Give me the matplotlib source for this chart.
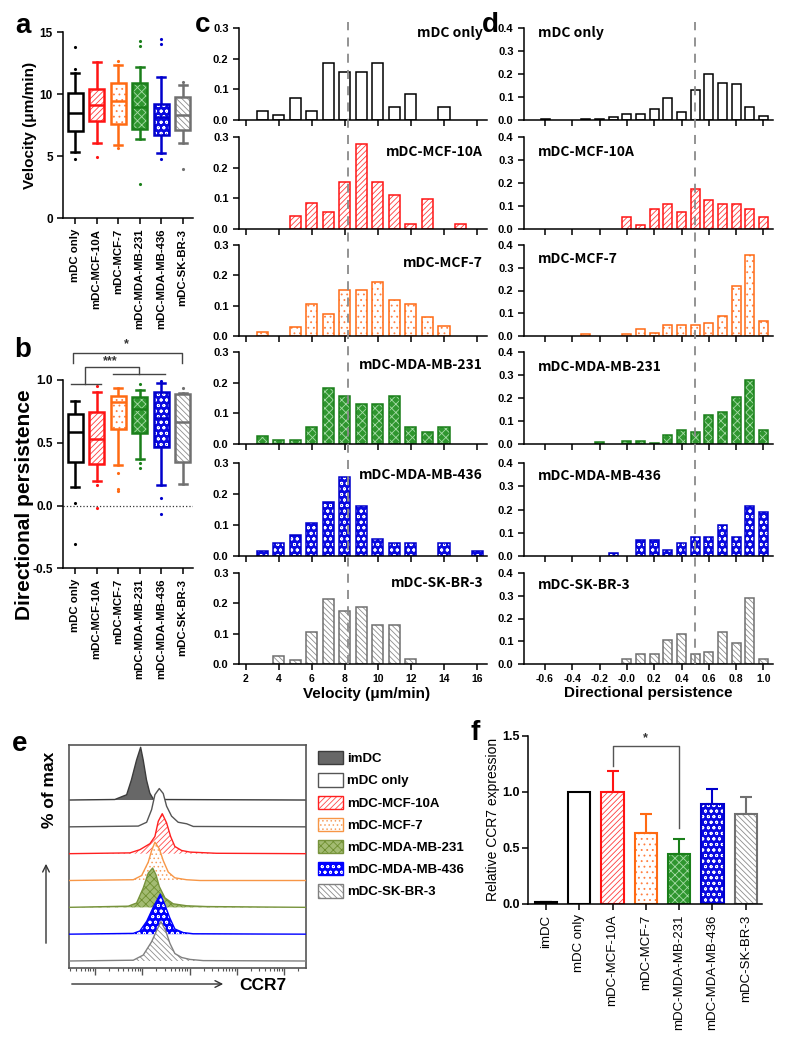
import numpy as np
import matplotlib
matplotlib.use("Agg")
import matplotlib.pyplot as plt
from matplotlib.patches import Patch
from matplotlib.legend_handler import HandlerTuple
from matplotlib.ticker import LogLocator, NullFormatter

plt.rcParams["font.family"] = ["Liberation Sans", "DejaVu Sans"]
plt.rcParams["font.weight"] = "bold"
plt.rcParams["hatch.linewidth"] = 0.6
plt.rcParams["axes.linewidth"] = 1.1
plt.rcParams["xtick.major.width"] = 1.1
plt.rcParams["ytick.major.width"] = 1.1

# ---------------- data ----------------
groups = ["mDC only", "mDC-MCF-10A", "mDC-MCF-7", "mDC-MDA-MB-231", "mDC-MDA-MB-436", "mDC-SK-BR-3"]

# panel a: velocity box plots (um/min)
vel_whislo = [5.38, 6.10, 5.89, 6.37, 5.24, 6.05]
vel_q1 = [7.04, 7.85, 7.61, 7.18, 6.72, 7.12]
vel_med = [8.52, 9.11, 9.44, 8.95, 8.15, 8.33]
vel_q3 = [10.08, 10.40, 10.94, 10.94, 9.25, 9.76]
vel_whishi = [11.75, 12.60, 12.37, 12.18, 11.42, 10.78]
vel_fliers = [[13.84, 12.04, 4.81], [4.92], [12.69, 5.70], [14.30, 13.90, 2.77], [14.46, 14.06, 4.76], [11.02, 3.95]]

# panel b: directional persistence box plots
per_whislo = [0.151, 0.194, 0.326, 0.374, 0.164, 0.170]
per_q1 = [0.350, 0.332, 0.613, 0.576, 0.470, 0.350]
per_med = [0.589, 0.530, 0.828, 0.767, 0.700, 0.668]
per_q3 = [0.727, 0.743, 0.873, 0.862, 0.907, 0.886]
per_whishi = [0.830, 0.902, 0.934, 0.920, 0.973, 0.900]
per_fliers = [[0.024, -0.308], [0.952, 0.167, -0.019], [0.257, 0.133, 0.114],
              [0.966, 0.342, 0.297], [0.990, 0.058, -0.069], [0.940]]

# panel c: velocity histograms (relative frequency)
vel_bins = [3, 4, 5, 6, 7, 8, 9, 10, 11, 12, 13, 14, 15, 16]
vel_mdc = [0.028, 0.015, 0.071, 0.028, 0.187, 0.157, 0.157, 0.187, 0.043, 0.086, 0, 0.043, 0, 0]
vel_mcf10a = [0, 0, 0.041, 0.084, 0.055, 0.152, 0.276, 0.152, 0.111, 0.017, 0.098, 0, 0.017, 0]
vel_mcf7 = [0.013, 0, 0.030, 0.104, 0.074, 0.151, 0.151, 0.179, 0.120, 0.104, 0.061, 0.032, 0, 0]
vel_mb231 = [0.027, 0.013, 0.013, 0.054, 0.183, 0.157, 0.130, 0.130, 0.157, 0.054, 0.040, 0.054, 0, 0]
vel_mb436 = [0.015, 0.042, 0.067, 0.107, 0.175, 0.254, 0.161, 0.054, 0.042, 0.042, 0, 0.042, 0, 0.015]
vel_skbr3 = [0, 0.025, 0.012, 0.105, 0.215, 0.175, 0.188, 0.130, 0.130, 0.015, 0, 0, 0, 0]
vel_mean_line = 8.2

# panel d: directional persistence histograms
per_bins = [-0.6, -0.5, -0.4, -0.3, -0.2, -0.1, 0.0, 0.1, 0.2, 0.3, 0.4, 0.5, 0.6, 0.7, 0.8, 0.9, 1.0]
per_mdc = [0.005, 0, 0, 0.004, 0.004, 0.012, 0.026, 0.026, 0.048, 0.095, 0.034, 0.132, 0.198, 0.160, 0.155, 0.056, 0.019]
per_mcf10a = [0, 0, 0, 0, 0, 0, 0.053, 0.017, 0.089, 0.110, 0.072, 0.176, 0.126, 0.110, 0.110, 0.089, 0.053]
per_mcf7 = [0, 0, 0, 0.007, 0, 0, 0.007, 0.032, 0.013, 0.047, 0.047, 0.047, 0.057, 0.090, 0.218, 0.355, 0.064]
per_mb231 = [0, 0, 0, 0, 0.010, 0, 0.012, 0.012, 0.006, 0.039, 0.061, 0.052, 0.125, 0.138, 0.204, 0.277, 0.060]
per_mb436 = [0, 0, 0, 0, 0, 0.013, 0, 0.068, 0.068, 0.027, 0.056, 0.083, 0.083, 0.135, 0.083, 0.213, 0.190]
per_skbr3 = [0, 0, 0, 0, 0, 0, 0.022, 0.044, 0.044, 0.105, 0.130, 0.044, 0.054, 0.140, 0.091, 0.290, 0.022]
per_mean_line = 0.5

# panel e: CCR7 flow histograms (log10 CCR7, % of max)
e_labels = ["imDC", "mDC only", "mDC-MCF-10A", "mDC-MCF-7", "mDC-MDA-MB-231", "mDC-MDA-MB-436", "mDC-SK-BR-3"]
imdc_x = [1.42, 1.67, 1.77, 1.88, 1.966, 2.02, 2.09, 2.16, 2.24]
imdc_y = [1, 10, 38, 76, 100, 76, 38, 13, 1]
mdc_x = [1.916, 2.093, 2.198, 2.268, 2.36, 2.444, 2.515, 2.62, 2.76, 2.94, 3.08]
mdc_y = [2, 12, 45, 84, 100, 87, 54, 28, 12, 8, 1]
mcf10a_x = [1.74, 1.95, 2.163, 2.268, 2.339, 2.423, 2.515, 2.60, 2.69, 2.833, 3.01, 3.57]
mcf10a_y = [2, 10, 25, 43, 81, 100, 77, 43, 18, 8, 4, 1]
mcf7_x = [1.81, 1.987, 2.127, 2.198, 2.268, 2.36, 2.444, 2.55, 2.69, 2.94, 3.22]
mcf7_y = [2, 13, 48, 78, 100, 83, 52, 22, 7, 2, 0]
mb231_x = [1.705, 1.88, 2.02, 2.127, 2.22, 2.29, 2.36, 2.48, 2.655, 2.94, 3.36]
mb231_y = [3, 11, 49, 87, 100, 83, 53, 24, 9, 4, 2]
mb436_x = [1.81, 1.95, 2.093, 2.24, 2.381, 2.48, 2.585, 2.69, 2.867, 3.08]
mb436_y = [2, 8, 32, 69, 100, 73, 40, 13, 4, 1]
skbr3_x = [1.81, 2.02, 2.198, 2.31, 2.395, 2.49, 2.585, 2.69, 2.833, 3.01, 3.29]
skbr3_y = [2, 15, 49, 79, 100, 79, 45, 19, 9, 4, 1]

# panel f: relative CCR7 expression
f_labels = ["imDC", "mDC only", "mDC-MCF-10A", "mDC-MCF-7", "mDC-MDA-MB-231", "mDC-MDA-MB-436", "mDC-SK-BR-3"]
f_mean = [0.015, 1.0, 1.0, 0.636, 0.443, 0.894, 0.799]
f_err = [0.005, 0.0, 0.186, 0.166, 0.136, 0.131, 0.158]

# ---------------- styles ----------------
ST = [
    dict(face="white", hatch=None, hcolor=None, edge="black"),
    dict(face="white", hatch="//////", hcolor="#ff3b3b", edge="#ff1414"),
    dict(face="white", hatch="...", hcolor="#ff7f3f", edge="#ff6a13"),
    dict(face="#2f962f", hatch="xxxx", hcolor="#a6dba6", edge="#1a7f1a"),
    dict(face="#0a0ae0", hatch="ooo", hcolor="white", edge="#0000cc"),
    dict(face="white", hatch="\\\\\\\\\\\\", hcolor="#8c8c8c", edge="#707070"),
]
IMDC_ST = dict(face="black", hatch=None, hcolor=None, edge="black")
E_ST = [
    dict(face="#676767", hatch=None, hcolor=None, edge="#3c3c3c"),
    dict(face="white", hatch=None, hcolor=None, edge="#555555"),
    dict(face="white", hatch="//////", hcolor="#ff4a4a", edge="#ff2020"),
    dict(face="white", hatch="....", hcolor="#f7a060", edge="#f79646"),
    dict(face="#a3bb72", hatch="xxxx", hcolor="#6f8f30", edge="#77933c"),
    dict(face="#0000ff", hatch="ooo", hcolor="white", edge="#0000ff"),
    dict(face="white", hatch="\\\\\\\\\\\\", hcolor="#8c8c8c", edge="#808080"),
]

W, H = 787, 1037
fig = plt.figure(figsize=(W / 100, H / 100), dpi=100)
fig.patch.set_facecolor("white")


def add_ax(l, t, r, b):
    return fig.add_axes([l / W, 1 - b / H, (r - l) / W, (b - t) / H])


def layered_bar(ax, x, h, width, st, bottom=0, lw=1.1, z=2):
    ax.bar(x, h, width, bottom=bottom, color=st["face"], edgecolor="none", linewidth=0, zorder=z)
    if st["hatch"]:
        ax.bar(x, h, width, bottom=bottom, color="none", edgecolor=st["hcolor"],
               hatch=st["hatch"], linewidth=0, zorder=z + 0.1)
    ax.bar(x, h, width, bottom=bottom, color="none", edgecolor=st["edge"], linewidth=lw, zorder=z + 0.2)


def clean(ax):
    ax.spines["top"].set_visible(False)
    ax.spines["right"].set_visible(False)
    ax.tick_params(direction="out", length=4, width=1.1)


# ---------------- panels a, b ----------------
def box_panel(ax, lo, q1, med, q3, hi, fl):
    pos = np.arange(1, 7)
    stats = [dict(whislo=lo[i], q1=q1[i], med=med[i], q3=q3[i], whishi=hi[i], fliers=fl[i]) for i in range(6)]
    art = ax.bxp(stats, positions=pos, widths=0.7, showbox=False, capwidths=0.37,
                 medianprops=dict(zorder=6, lw=1.8),
                 whiskerprops=dict(lw=1.8), capprops=dict(lw=1.8),
                 flierprops=dict(marker=".", markersize=2.5, linestyle="none"))
    for i in range(6):
        st = ST[i]
        c = st["edge"]
        for art_item in (art["whiskers"][2 * i], art["whiskers"][2 * i + 1],
                         art["caps"][2 * i], art["caps"][2 * i + 1]):
            art_item.set_color(c)
        art["medians"][i].set_color(c)
        art["fliers"][i].set_markerfacecolor(c)
        art["fliers"][i].set_markeredgecolor(c)
        layered_bar(ax, pos[i], q3[i] - q1[i], 0.7, st, bottom=q1[i], lw=1.8, z=3)
    ax.set_xlim(0.45, 6.5)
    ax.set_xticks(pos)
    ax.set_xticklabels(groups, rotation=90, fontsize=8.2)
    clean(ax)


ax_a = add_ax(63.3, 32.3, 193.3, 218.3)
box_panel(ax_a, vel_whislo, vel_q1, vel_med, vel_q3, vel_whishi, vel_fliers)
ax_a.set_ylim(0, 15)
ax_a.set_yticks([0, 5, 10, 15])
ax_a.tick_params(axis="y", labelsize=8.5)
ax_a.set_ylabel("Velocity (μm/min)", fontsize=11, fontweight="bold")
ax_a.yaxis.set_label_coords(-0.2, 0.5)

ax_b = add_ax(63.3, 380, 193.3, 568.3)
box_panel(ax_b, per_whislo, per_q1, per_med, per_q3, per_whishi, per_fliers)
ax_b.set_ylim(-0.5, 1.0)
ax_b.set_yticks([-0.5, 0, 0.5, 1.0])
ax_b.set_yticklabels(["-0.5", "0.0", "0.5", "1.0"])
ax_b.tick_params(axis="y", labelsize=8.5)
ax_b.axhline(0, ls=":", color="#333333", lw=0.9, zorder=1)
ax_b.set_ylabel("Directional persistence", fontsize=15, fontweight="bold")
ax_b.yaxis.set_label_coords(-0.225, 0.336)
bk = dict(color="#444444", lw=1.0, clip_on=False)
ax_b.plot([0.92, 0.92, 5.98, 5.98], [1.138, 1.212, 1.212, 1.138], **bk)
ax_b.text(3.38, 1.235, "*", ha="center", va="bottom", fontsize=9, color="#333333", clip_on=False)
ax_b.plot([0.81, 2.2], [0.966, 0.966], **bk)
ax_b.plot([1.47, 1.47, 3.96, 3.96], [0.966, 1.10, 1.10, 1.045], **bk)
ax_b.plot([2.76, 5.17], [1.045, 1.045], **bk)
ax_b.text(2.64, 1.105, "***", ha="center", va="bottom", fontsize=9, color="#333333", clip_on=False)

# ---------------- panels c, d ----------------
row_tops = [28, 137, 245, 352, 463, 573]
row_bots = [120, 229, 336, 444, 556, 664]
vel_sets = [vel_mdc, vel_mcf10a, vel_mcf7, vel_mb231, vel_mb436, vel_skbr3]
per_sets = [per_mdc, per_mcf10a, per_mcf7, per_mb231, per_mb436, per_skbr3]
c_title_y = [33, 152, 263, 365, 475, 583]
d_title_y = [33, 152, 259, 367, 476, 585]

ax_c = []
ax_d = []
for i in range(6):
    axc = add_ax(239, row_tops[i], 487, row_bots[i])
    vb = np.array(vel_bins, dtype=float)
    vh = np.array(vel_sets[i])
    m = vh > 0
    layered_bar(axc, vb[m], vh[m], 0.67, ST[i], lw=1.1)
    axc.set_xlim(1.6, 16.6)
    axc.set_ylim(0, 0.3)
    axc.set_yticks([0, 0.1, 0.2, 0.3])
    axc.set_yticklabels(["0.0", "0.1", "0.2", "0.3"])
    axc.set_xticks(np.arange(2, 17, 2))
    clean(axc)
    axc.tick_params(axis="y", labelsize=8)
    axc.tick_params(axis="x", labelsize=7.5)
    if i < 5:
        axc.set_xticklabels([])
    fig.text(483 / W, 1 - c_title_y[i] / H, groups[i], ha="right", va="center",
             fontsize=10, fontweight="bold", family=["Noto Sans CJK KR", "DejaVu Sans"])
    ax_c.append(axc)

    axd = add_ax(524, row_tops[i], 773, row_bots[i])
    pb = np.array(per_bins)
    ph = np.array(per_sets[i])
    m = ph > 0
    layered_bar(axd, pb[m], ph[m], 0.066, ST[i], lw=1.1)
    axd.set_xlim(-0.754, 1.07)
    axd.set_ylim(0, 0.4)
    axd.set_yticks([0, 0.1, 0.2, 0.3, 0.4])
    axd.set_yticklabels(["0.0", "0.1", "0.2", "0.3", "0.4"])
    axd.set_xticks([-0.6, -0.4, -0.2, 0.0, 0.2, 0.4, 0.6, 0.8, 1.0])
    clean(axd)
    axd.tick_params(axis="y", labelsize=8)
    axd.tick_params(axis="x", labelsize=7.5)
    if i < 5:
        axd.set_xticklabels([])
    else:
        axd.set_xticklabels(["-0.6", "-0.4", "-0.2", "-0.0", "0.2", "0.4", "0.6", "0.8", "1.0"])
    fig.text(538 / W, 1 - d_title_y[i] / H, groups[i], ha="left", va="center",
             fontsize=10, fontweight="bold", family=["Noto Sans CJK KR", "DejaVu Sans"])
    ax_d.append(axd)

top_frac = (664 - 22) / (664 - 573)
ax_c[-1].plot([vel_mean_line, vel_mean_line], [0, top_frac], transform=ax_c[-1].get_xaxis_transform(),
              clip_on=False, ls=(0, (5, 4)), color="#8a8a8a", lw=1.3, zorder=10)
ax_d[-1].plot([per_mean_line, per_mean_line], [0, top_frac], transform=ax_d[-1].get_xaxis_transform(),
              clip_on=False, ls=(0, (5, 4)), color="#8a8a8a", lw=1.3, zorder=10)
fig.text(367 / W, 1 - 694 / H, "Velocity (μm/min)", ha="center", va="center", fontsize=11, fontweight="bold")
fig.text(648 / W, 1 - 693 / H, "Directional persistence", ha="center", va="center", fontsize=11, fontweight="bold")

# ---------------- panel e ----------------
ax_e = add_ax(69, 745, 306, 968)
XMIN_LOG, XMAX_LOG = 0.45, 5.465
curves = [(imdc_x, imdc_y), (mdc_x, mdc_y), (mcf10a_x, mcf10a_y), (mcf7_x, mcf7_y),
          (mb231_x, mb231_y), (mb436_x, mb436_y), (skbr3_x, skbr3_y)]
peak_px = [52.7, 38.3, 40.0, 38.3, 39.3, 40.0, 39.3]
for i, (cx, cy) in enumerate(curves):
    base = 7 + (6 - i) * 26.83
    xs = 10 ** np.r_[XMIN_LOG, cx, XMAX_LOG]
    ys = base + np.r_[0, cy, 0] / 100.0 * peak_px[i]
    st = E_ST[i]
    z = 2 + i
    ax_e.fill_between(xs, base, ys, facecolor=st["face"], edgecolor="none", linewidth=0, zorder=z)
    if st["hatch"]:
        ax_e.fill_between(xs, base, ys, facecolor="none", edgecolor=st["hcolor"], hatch=st["hatch"],
                          linewidth=0, zorder=z + 0.1)
    ax_e.plot(xs, ys, color=st["edge"], lw=1.0, zorder=z + 0.2)
ax_e.set_xscale("log")
ax_e.set_xlim(10 ** XMIN_LOG, 10 ** XMAX_LOG)
ax_e.set_ylim(0, 223)
ax_e.set_yticks([])
ax_e.xaxis.set_major_locator(LogLocator(base=10, numticks=10))
ax_e.xaxis.set_minor_locator(LogLocator(base=10, subs=np.arange(2, 10), numticks=20))
ax_e.xaxis.set_major_formatter(NullFormatter())
ax_e.xaxis.set_minor_formatter(NullFormatter())
ax_e.tick_params(axis="x", which="major", length=5, width=1.0, color="#555555", direction="out")
ax_e.tick_params(axis="x", which="minor", length=2.5, width=0.8, color="#555555", direction="out")
for sp in ax_e.spines.values():
    sp.set_color("#555555")
    sp.set_linewidth(1.2)

handles = []
for st in E_ST:
    parts = [Patch(facecolor=st["face"], edgecolor="none", linewidth=0)]
    if st["hatch"]:
        parts.append(Patch(facecolor="none", edgecolor=st["hcolor"], hatch=st["hatch"], linewidth=0))
    parts.append(Patch(facecolor="none", edgecolor=st["edge"], linewidth=1.0))
    handles.append(tuple(parts))
fig.legend(handles, e_labels, handler_map={tuple: HandlerTuple(ndivide=1, pad=0)},
           loc="upper left", bbox_to_anchor=(309 / W, 1 - 742 / H), frameon=False,
           handlelength=1.9, handleheight=1.15, handletextpad=0.3,
           labelspacing=0.62, borderpad=0.2, prop=dict(weight="bold", size=9.5))

fig.add_artist(matplotlib.patches.FancyArrowPatch((69 / W, 1 - 984 / H), (226 / W, 1 - 984 / H),
               transform=fig.transFigure, arrowstyle="->", mutation_scale=12, lw=1.0, color="#333333"))
fig.add_artist(matplotlib.patches.FancyArrowPatch((46 / W, 1 - 946 / H), (46 / W, 1 - 861 / H),
               transform=fig.transFigure, arrowstyle="->", mutation_scale=12, lw=1.0, color="#333333"))
fig.text(239 / W, 1 - 985 / H, "CCR7", ha="left", va="center", fontsize=12.5, fontweight="bold")
fig.text(49 / W, 1 - 790 / H, "% of max", ha="center", va="center", rotation=90, fontsize=12.5, fontweight="bold")

# ---------------- panel f ----------------
ax_f = add_ax(528.3, 735.7, 761.7, 904)
f_st = [IMDC_ST] + ST
fx = np.arange(len(f_mean))
for i in range(len(f_mean)):
    layered_bar(ax_f, fx[i], f_mean[i], 0.67, f_st[i], lw=1.5)
    if f_err[i] > 0:
        ax_f.errorbar(fx[i], f_mean[i], yerr=[[0], [f_err[i]]], fmt="none", ecolor=f_st[i]["edge"],
                      elinewidth=1.5, capsize=4.2, capthick=1.5, zorder=1)
ax_f.set_xlim(-0.53, 6.48)
ax_f.set_ylim(0, 1.5)
ax_f.set_yticks([0, 0.5, 1.0, 1.5])
ax_f.set_yticklabels(["0.0", "0.5", "1.0", "1.5"])
ax_f.set_xticks(fx)
ax_f.set_xticklabels(f_labels, rotation=90, fontsize=9.5, fontweight="normal")
clean(ax_f)
ax_f.tick_params(axis="y", labelsize=9, pad=2)
ax_f.set_ylabel("Relative CCR7 expression", fontsize=10, fontweight="normal")
ax_f.yaxis.set_label_coords(-0.122, 0.5)
ax_f.plot([2, 2, 4, 4], [1.229, 1.407, 1.407, 0.674], color="#555555", lw=1.0, clip_on=False)
ax_f.text(3, 1.425, "*", ha="center", va="bottom", fontsize=9, color="#333333")

# ---------------- panel letters ----------------
for lab, x, y in [("a", 23, 26), ("b", 23, 350), ("c", 203, 25), ("d", 490, 25), ("e", 20, 744), ("f", 475, 733)]:
    fig.text(x / W, 1 - y / H, lab, ha="center", va="center", fontsize=20, fontweight="bold")

fig.savefig("out.png", dpi=100, facecolor="white")
